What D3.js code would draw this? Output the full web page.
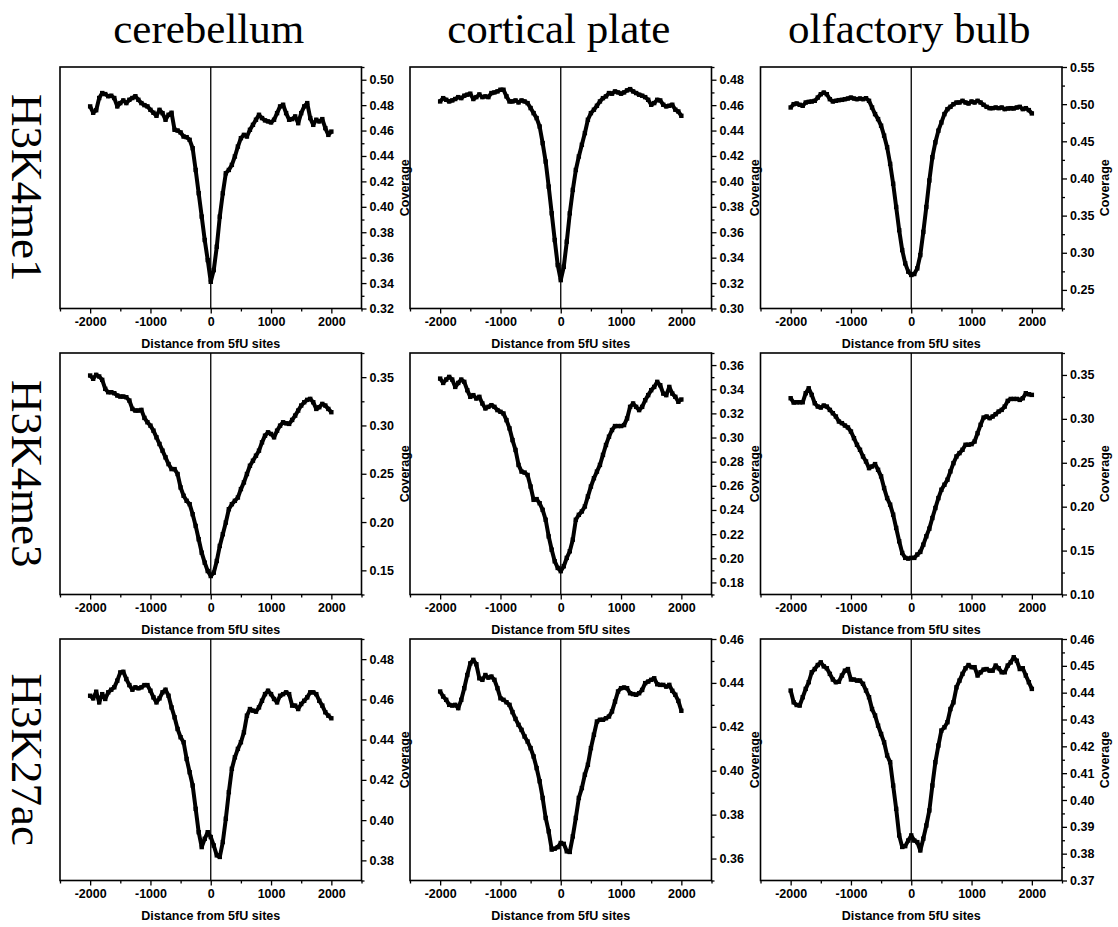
<!DOCTYPE html>
<html><head><meta charset="utf-8">
<script src="https://cdn.jsdelivr.net/npm/d3@7"></script>
<style>
html,body{margin:0;padding:0;background:#fff;}
svg{display:block;}
</style></head>
<body>
<svg id="chart" width="1118" height="927"></svg>
<script>
// ---------- DATA ----------
const columns = ["cerebellum", "cortical plate", "olfactory bulb"];
const rows = ["H3K4me1", "H3K4me3", "H3K27ac"];
const xTickLabels = [-2000, -1000, 0, 1000, 2000];
const xAxisTitle = "Distance from 5fU sites";
const yAxisTitle = "Coverage";

// positions (bp): -2000..2000 every 50
const positions = d3.range(-2000, 2001, 50);

// H3K4me1
const cbH3K4me1 = [0.479,0.474,0.476,0.4856,0.4895,0.4887,0.487,0.4874,0.4856,0.479,0.4816,0.4837,0.4816,0.4842,0.4856,0.487,0.4842,0.4816,0.480,0.479,0.4763,0.474,0.4716,0.4763,0.4737,0.4685,0.4724,0.474,0.4606,0.460,0.4585,0.4553,0.4548,0.4527,0.4461,0.429,0.4107,0.3923,0.3739,0.3581,0.341,0.3502,0.3686,0.3923,0.4107,0.4264,0.429,0.433,0.4396,0.4474,0.454,0.4566,0.4553,0.4606,0.4645,0.4685,0.4724,0.4698,0.468,0.4672,0.4664,0.4685,0.4737,0.479,0.4803,0.4737,0.4685,0.469,0.4711,0.4658,0.4737,0.479,0.4816,0.4698,0.4645,0.4685,0.4672,0.469,0.4619,0.4566,0.4592];
const cpH3K4me1 = [0.4629,0.4655,0.4642,0.4629,0.4637,0.4648,0.4663,0.4655,0.4674,0.4682,0.469,0.4648,0.4663,0.4684,0.4663,0.4669,0.4663,0.4695,0.47,0.4708,0.4721,0.4721,0.4669,0.4629,0.4629,0.4637,0.4621,0.4637,0.4629,0.4616,0.4577,0.4537,0.4498,0.4432,0.4301,0.4156,0.3959,0.3749,0.3539,0.3342,0.3223,0.3328,0.3526,0.3749,0.3933,0.409,0.4196,0.4288,0.438,0.4485,0.4537,0.4564,0.4595,0.4629,0.4655,0.4669,0.4695,0.469,0.4708,0.47,0.469,0.47,0.4716,0.4726,0.4708,0.4695,0.4682,0.4674,0.4663,0.4642,0.4603,0.4616,0.4642,0.4637,0.4603,0.459,0.4595,0.4603,0.4564,0.455,0.4516];
const obH3K4me1 = [0.4955,0.50,0.5009,0.4991,0.4978,0.5022,0.5031,0.5036,0.5045,0.5089,0.5134,0.5156,0.5134,0.5067,0.5036,0.5045,0.5054,0.5058,0.5067,0.5076,0.5089,0.5076,0.5067,0.5076,0.5067,0.508,0.5045,0.4955,0.4866,0.4799,0.471,0.4576,0.442,0.4196,0.3929,0.3616,0.3304,0.3036,0.2857,0.2746,0.2701,0.2714,0.279,0.2969,0.3281,0.3616,0.3973,0.4286,0.4487,0.4643,0.4754,0.4866,0.4933,0.4964,0.50,0.5022,0.5022,0.5045,0.5022,0.5009,0.5036,0.5022,0.5045,0.5022,0.4991,0.4964,0.4946,0.4946,0.4955,0.4946,0.4955,0.4933,0.4942,0.4946,0.4942,0.4955,0.4964,0.4933,0.4946,0.492,0.4875];
// H3K4me3
const cbH3K4me3 = [0.3517,0.3483,0.3524,0.3507,0.3472,0.3379,0.3344,0.3344,0.3334,0.331,0.3299,0.3299,0.3292,0.3258,0.3171,0.3154,0.3154,0.3161,0.3078,0.3033,0.2998,0.2946,0.2877,0.2808,0.2739,0.267,0.26,0.2548,0.2548,0.2497,0.2358,0.2272,0.222,0.2185,0.2081,0.196,0.1822,0.1683,0.158,0.1493,0.1441,0.1476,0.1597,0.1753,0.1874,0.1995,0.2133,0.2185,0.222,0.2254,0.2341,0.241,0.2497,0.2583,0.2635,0.2687,0.2739,0.2825,0.2894,0.2929,0.2912,0.2877,0.2946,0.2998,0.3033,0.3022,0.3016,0.3057,0.3102,0.3154,0.3206,0.324,0.3265,0.3275,0.324,0.3171,0.3189,0.3223,0.3206,0.3171,0.3137];
const cpH3K4me3 = [0.3488,0.3452,0.348,0.3502,0.348,0.3419,0.3452,0.348,0.3461,0.3392,0.3337,0.3351,0.3323,0.3337,0.3282,0.3241,0.3254,0.3268,0.3254,0.3227,0.3213,0.3199,0.3144,0.3076,0.2979,0.2897,0.2773,0.2718,0.271,0.269,0.2594,0.2484,0.249,0.2456,0.2401,0.2319,0.2181,0.2071,0.1975,0.192,0.1893,0.1934,0.2003,0.2058,0.2154,0.2319,0.236,0.2388,0.2429,0.2512,0.2594,0.2663,0.2718,0.2773,0.2856,0.2938,0.3007,0.3062,0.3095,0.3095,0.3095,0.3103,0.3158,0.3254,0.3282,0.3254,0.3227,0.3254,0.3309,0.3351,0.3392,0.3419,0.3461,0.3433,0.3364,0.3351,0.3419,0.3364,0.3337,0.3296,0.3315];
const obH3K4me3 = [0.3235,0.3186,0.3189,0.3189,0.3189,0.3292,0.3348,0.3273,0.3178,0.314,0.3129,0.3152,0.314,0.3102,0.3064,0.3027,0.297,0.2951,0.2924,0.2902,0.2856,0.278,0.2705,0.2648,0.2572,0.2515,0.2439,0.2458,0.2485,0.242,0.2345,0.2212,0.2098,0.2023,0.1909,0.1758,0.1606,0.1473,0.1417,0.1409,0.1417,0.1417,0.1455,0.1485,0.1568,0.1663,0.175,0.1871,0.1985,0.2098,0.2193,0.225,0.2307,0.2402,0.2496,0.2572,0.261,0.2648,0.2705,0.2705,0.2712,0.2742,0.2837,0.2932,0.3015,0.3027,0.3008,0.3027,0.3053,0.3083,0.3102,0.314,0.3205,0.3227,0.3227,0.3227,0.3216,0.3235,0.3292,0.328,0.3273];
// H3K27ac
const cbH3K27ac = [0.4618,0.4605,0.4638,0.4585,0.4626,0.4602,0.4635,0.4648,0.466,0.4693,0.4734,0.4737,0.4701,0.4671,0.4648,0.466,0.4655,0.466,0.4671,0.4671,0.4643,0.461,0.4585,0.4605,0.4635,0.4648,0.4618,0.456,0.4511,0.4453,0.4412,0.4387,0.4304,0.4238,0.4172,0.4056,0.394,0.3866,0.3907,0.394,0.3916,0.3874,0.3825,0.3817,0.3891,0.4007,0.4139,0.4255,0.4312,0.4354,0.4387,0.4436,0.4519,0.4552,0.4544,0.4539,0.456,0.4593,0.4626,0.4643,0.4626,0.4602,0.4585,0.4618,0.4626,0.4635,0.4626,0.4569,0.4569,0.4552,0.4577,0.4593,0.461,0.4635,0.4635,0.4626,0.4593,0.4569,0.4536,0.4519,0.4506];
const cpH3K27ac = [0.4361,0.4338,0.4323,0.43,0.4297,0.43,0.4285,0.4323,0.4376,0.4436,0.4489,0.4505,0.4485,0.4421,0.4414,0.4436,0.4424,0.4429,0.4414,0.4376,0.433,0.4323,0.4312,0.43,0.4267,0.4236,0.4209,0.4186,0.4156,0.4133,0.4103,0.4065,0.4012,0.3952,0.3876,0.3785,0.3724,0.3641,0.3645,0.3652,0.3671,0.3667,0.3633,0.363,0.3701,0.3785,0.3876,0.3921,0.3982,0.4027,0.4103,0.4164,0.4224,0.4232,0.4232,0.4239,0.4247,0.427,0.4315,0.4361,0.4376,0.4379,0.4376,0.4353,0.4349,0.4346,0.4353,0.4368,0.4399,0.4406,0.4414,0.4421,0.4394,0.4391,0.4391,0.4383,0.4391,0.4364,0.4346,0.4318,0.4273];
const obH3K27ac = [0.4408,0.4364,0.4354,0.4352,0.4383,0.4414,0.4439,0.4476,0.4488,0.4503,0.4513,0.4498,0.4491,0.447,0.4449,0.4439,0.4441,0.4464,0.4482,0.4488,0.4449,0.4449,0.4445,0.4445,0.4433,0.4408,0.4383,0.4339,0.4315,0.4277,0.4246,0.4215,0.4166,0.4141,0.4054,0.3967,0.3868,0.3825,0.3828,0.3849,0.3868,0.3849,0.3843,0.3812,0.3856,0.3905,0.3961,0.4054,0.4141,0.4203,0.4259,0.4271,0.429,0.4339,0.4364,0.442,0.4445,0.447,0.4491,0.4503,0.4495,0.4495,0.4464,0.4476,0.4486,0.4488,0.4482,0.4482,0.4501,0.4491,0.4476,0.4476,0.4501,0.4513,0.4532,0.4519,0.4488,0.4491,0.4464,0.4439,0.4414];

// y-axis domains and ticks per panel (row-major)
const yDomains = [[0.32,0.51],[0.30,0.49],[0.225,0.55],[0.125,0.375],[0.17,0.37],[0.10,0.375],[0.37,0.49],[0.35,0.46],[0.37,0.46]];
const yMajorTicks = [
  [0.32,0.34,0.36,0.38,0.40,0.42,0.44,0.46,0.48,0.50],
  [0.30,0.32,0.34,0.36,0.38,0.40,0.42,0.44,0.46,0.48],
  [0.25,0.30,0.35,0.40,0.45,0.50,0.55],
  [0.15,0.20,0.25,0.30,0.35],
  [0.18,0.20,0.22,0.24,0.26,0.28,0.30,0.32,0.34,0.36],
  [0.10,0.15,0.20,0.25,0.30,0.35],
  [0.38,0.40,0.42,0.44,0.46,0.48],
  [0.36,0.38,0.40,0.42,0.44,0.46],
  [0.37,0.38,0.39,0.40,0.41,0.42,0.43,0.44,0.45,0.46]
];
const yMinorStep = [0.01,0.01,0.025,0.025,0.01,0.025,0.01,0.01,0.005];
const series = [cbH3K4me1, cpH3K4me1, obH3K4me1, cbH3K4me3, cpH3K4me3, obH3K4me3, cbH3K27ac, cpH3K27ac, obH3K27ac];

// ---------- LAYOUT ----------
const colX = [60, 410, 760.5];
const rowY = [67, 353, 639];
const pw = 301.5, ph = 241.5;

const svg = d3.select("#chart");
const serif = "'Liberation Serif','Times New Roman',serif";
const font = "'Liberation Sans',Arial,sans-serif";

// column titles
columns.forEach((c,i)=>{
  svg.append("text").attr("x", colX[i]+pw/2-2).attr("y", 43)
    .attr("text-anchor","middle").attr("font-family",serif)
    .attr("font-size", 43).attr("fill","#000").text(c);
});
// row labels
rows.forEach((r,i)=>{
  const cy = rowY[i]+ph/2;
  svg.append("text").attr("transform",`translate(12,${cy}) rotate(90)`)
    .attr("text-anchor","middle").attr("font-family",serif)
    .attr("font-size", 45).attr("fill","#000").text(r);
});

const xFmt = d => String(d);

series.forEach((vals, k)=>{
  const ri = Math.floor(k/3), ci = k%3;
  const g = svg.append("g").attr("transform",`translate(${colX[ci]},${rowY[ri]})`);
  const x = d3.scaleLinear().domain([-2500,2500]).range([0,pw]);
  const y = d3.scaleLinear().domain(yDomains[k]).range([ph,0]);

  // x axis minor ticks
  const xMinor = d3.range(-2500, 2501, 500).filter(v=>!xTickLabels.includes(v));
  g.append("g").attr("transform",`translate(0,${ph})`)
    .call(d3.axisBottom(x).tickValues(xMinor).tickSize(3).tickFormat(""))
    .call(a=>a.select(".domain").remove())
    .call(a=>a.selectAll("line").attr("stroke-width",1.3));
  // x axis major
  g.append("g").attr("transform",`translate(0,${ph})`)
    .call(d3.axisBottom(x).tickValues(xTickLabels).tickSize(5).tickPadding(4).tickFormat(xFmt))
    .call(a=>a.select(".domain").remove())
    .call(a=>a.selectAll("line").attr("stroke-width",1.3))
    .call(a=>a.selectAll("text").attr("font-family",font).attr("font-weight","bold").attr("font-size",12.5).attr("fill","#000"));
  g.append("text").attr("x", x(0)).attr("y", ph+39).attr("text-anchor","middle")
    .attr("font-family",font).attr("font-weight","bold").attr("font-size",12.5).text(xAxisTitle);

  // y axis on right
  const [d0,d1] = yDomains[k];
  const st = yMinorStep[k];
  const minor = d3.range(Math.ceil(d0/st-1e-6), Math.floor(d1/st+1e-6)+1).map(i=>+(i*st).toFixed(4))
     .filter(v=>!yMajorTicks[k].some(m=>Math.abs(m-v)<1e-6));
  g.append("g").attr("transform",`translate(${pw},0)`)
    .call(d3.axisRight(y).tickValues(minor).tickSize(3).tickFormat(""))
    .call(a=>a.select(".domain").remove())
    .call(a=>a.selectAll("line").attr("stroke-width",1.3));
  g.append("g").attr("transform",`translate(${pw},0)`)
    .call(d3.axisRight(y).tickValues(yMajorTicks[k]).tickSize(5).tickPadding(3).tickFormat(d3.format(".2f")))
    .call(a=>a.select(".domain").remove())
    .call(a=>a.selectAll("line").attr("stroke-width",1.3))
    .call(a=>a.selectAll("text").attr("font-family",font).attr("font-weight","bold").attr("font-size",12.5).attr("fill","#000"));
  g.append("text").attr("transform",`translate(${pw+47},${ph/2}) rotate(-90)`)
    .attr("text-anchor","middle").attr("font-family",font).attr("font-weight","bold").attr("font-size",12.5).text(yAxisTitle);

  // frame
  g.append("rect").attr("width",pw).attr("height",ph).attr("fill","none").attr("stroke","#000").attr("stroke-width",1.6);
  // zero line
  g.append("line").attr("x1",x(0)).attr("x2",x(0)).attr("y1",0).attr("y2",ph).attr("stroke","#000").attr("stroke-width",1.3);

  const pts = positions.map((p,i)=>[p, vals[i]]);
  g.append("path").datum(pts)
    .attr("d", d3.line().x(d=>x(d[0])).y(d=>y(d[1])))
    .attr("fill","none").attr("stroke","#000").attr("stroke-width",4).attr("stroke-linejoin","round");
  g.selectAll("rect.pt").data(pts).join("rect").attr("class","pt")
    .attr("x",d=>x(d[0])-2.2).attr("y",d=>y(d[1])-2.2).attr("width",4.4).attr("height",4.4).attr("fill","#000");
});
</script>
</body></html>
